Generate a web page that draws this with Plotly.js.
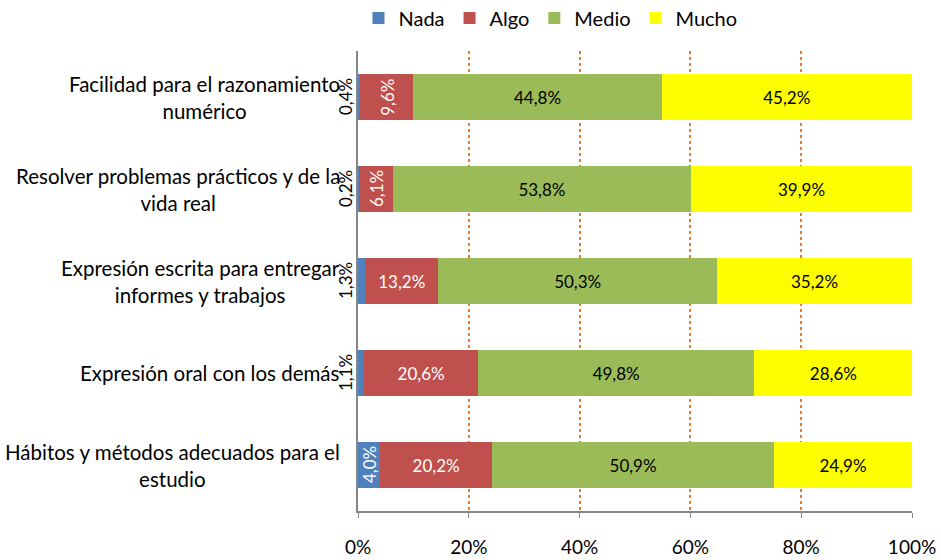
<!DOCTYPE html>
<html>
<head>
<meta charset="utf-8">
<script src="https://cdn.plot.ly/plotly-3.0.1.min.js"></script>
<style>
  html, body { margin: 0; padding: 0; background: #fff; }
  #chart { width: 941px; height: 560px; }
</style>
</head>
<body>
<div id="chart"></div>
<script>
// Categories, top to bottom
const categories = [
    "Facilidad para el razonamiento<br>numérico",
    "Resolver problemas prácticos y de la<br>vida real",
    "Expresión escrita para entregar<br>informes y trabajos",
    "Expresión oral con los demás",
    "Hábitos y métodos adecuados para el<br>estudio"
];

// Percent values per answer
const nada = [0.4, 0.2, 1.3, 1.1, 4.0];
const algo = [9.6, 6.1, 13.2, 20.6, 20.2];
const medio = [44.8, 53.8, 50.3, 49.8, 50.9];
const mucho = [45.2, 39.9, 35.2, 28.6, 24.9];

const tickVals = [0, 20, 40, 60, 80, 100];
const tickText = ["0%", "20%", "40%", "60%", "80%", "100%"];

const FONT = "Lato, 'Open Sans', sans-serif";

// "44,8%" style labels
const fmt = v => v.toFixed(1).replace(".", ",") + "%";

// Algo labels that are drawn rotated (narrow bars)
const algoRotated = [true, true, false, false, false];

const traces = [
    {
        name: "Nada", type: "bar", orientation: "h",
        y: categories, x: nada,
        marker: { color: "#4F81BD" },
        hoverinfo: "skip"
    },
    {
        name: "Algo", type: "bar", orientation: "h",
        y: categories, x: algo,
        text: algo.map((v, i) => algoRotated[i] ? "" : fmt(v)),
        textposition: "inside", insidetextanchor: "middle",
        textfont: { family: FONT, size: 17, color: "#ffffff" },
        constraintext: "none", textangle: 0,
        marker: { color: "#C0504D" },
        hoverinfo: "skip"
    },
    {
        name: "Medio", type: "bar", orientation: "h",
        y: categories, x: medio,
        text: medio.map(fmt),
        textposition: "inside", insidetextanchor: "middle",
        textfont: { family: FONT, size: 17, color: "#000000" },
        constraintext: "none", textangle: 0,
        marker: { color: "#9BBB59" },
        hoverinfo: "skip"
    },
    {
        name: "Mucho", type: "bar", orientation: "h",
        y: categories, x: mucho,
        text: mucho.map(fmt),
        textposition: "inside", insidetextanchor: "middle",
        textfont: { family: FONT, size: 17, color: "#000000" },
        constraintext: "none", textangle: 0,
        marker: { color: "#FFFF00" },
        hoverinfo: "skip"
    }
];

const annotations = [];

// category labels, centred lines
categories.forEach(c => {
    annotations.push({
        xref: "paper", yref: "y", x: 0, y: c,
        xanchor: "right", yanchor: "middle", xshift: -16,
        text: c, showarrow: false, align: "center",
        font: { family: FONT, size: 20.5, color: "#000" }
    });
});

// Nada labels, rotated; outside left when the bar is too thin
nada.forEach((v, i) => {
    const inside = v >= 3;
    annotations.push({
        xref: "x", yref: "y",
        x: inside ? v / 2 : 0, y: categories[i],
        xshift: inside ? 0 : -13,
        text: fmt(v), textangle: -90, showarrow: false,
        font: { family: FONT, size: 17, color: inside ? "#fff" : "#000" }
    });
});

// rotated Algo labels
algo.forEach((v, i) => {
    if (!algoRotated[i]) return;
    annotations.push({
        xref: "x", yref: "y",
        x: nada[i] + v / 2, y: categories[i],
        text: fmt(v), textangle: -90, showarrow: false,
        font: { family: FONT, size: 17, color: "#fff" }
    });
});

const layout = {
    width: 941, height: 560,
    margin: { l: 358, r: 29, t: 51, b: 49 },
    paper_bgcolor: "#fff", plot_bgcolor: "#fff",
    barmode: "stack",
    bargap: 0.49,
    showlegend: true,
    legend: {
        orientation: "h", traceorder: "normal",
        xref: "container", yref: "container",
        x: 0.585, xanchor: "center", y: 0.968, yanchor: "middle",
        font: { family: FONT, size: 20, color: "#000" },
        itemclick: false
    },
    xaxis: {
        range: [0, 100],
        tickvals: tickVals, ticktext: tickText,
        tickfont: { family: FONT, size: 19, color: "#000" },
        ticks: "outside", ticklen: 5, tickcolor: "#868686",
        ticklabelstandoff: 14, automargin: false,
        showline: true, linecolor: "#868686", linewidth: 1.5,
        showgrid: true, gridcolor: "#F07820", gridwidth: 2, griddash: "dot",
        zeroline: false, fixedrange: true
    },
    yaxis: {
        type: "category", autorange: "reversed",
        showticklabels: false, ticks: "", automargin: false,
        showline: true, linecolor: "#868686", linewidth: 2,
        showgrid: false, zeroline: false, fixedrange: true
    },
    annotations: annotations
};

Plotly.newPlot("chart", traces, layout, { displayModeBar: false, staticPlot: true });
</script>
</body>
</html>
